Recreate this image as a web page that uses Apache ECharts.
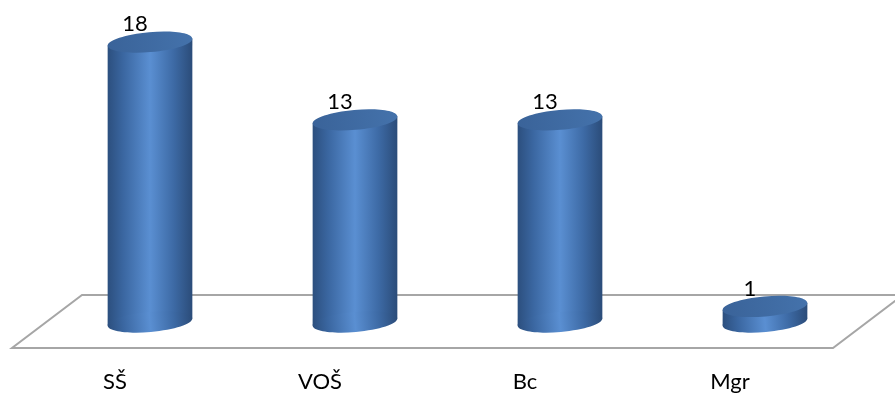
<!DOCTYPE html>
<html>
<head>
<meta charset="utf-8">
<script src="https://cdn.jsdelivr.net/npm/echarts@6/dist/echarts.min.js"></script>
<style>
  html, body { margin: 0; padding: 0; background: #ffffff; }
  #chart { width: 895px; height: 393px; }
</style>
</head>
<body>
<div id="chart"></div>
<script>
// Education level counts
const categories = ['SŠ', 'VOŠ', 'Bc', 'Mgr'];
const counts = [18, 13, 13, 1];

const FONT = 'Lato, "Open Sans", sans-serif';

const chart = echarts.init(document.getElementById('chart'), null, { renderer: 'canvas' });

const CYL_A = 42.5;               // ellipse semi-major axis
const CYL_B = 10;                 // ellipse semi-minor axis
const TILT = 5 * Math.PI / 180;   // slight perspective tilt of the caps

// horizontal half-extent of the tilted ellipse and vertical offset of its side points
const XE = Math.sqrt(CYL_A * CYL_A * Math.cos(TILT) ** 2 + CYL_B * CYL_B * Math.sin(TILT) ** 2);
const DY = (CYL_A * CYL_A - CYL_B * CYL_B) * Math.sin(TILT) * Math.cos(TILT) / XE;

function bodyGradient() {
  return new echarts.graphic.LinearGradient(0, 0, 1, 0, [
    { offset: 0, color: '#2c4f7e' },
    { offset: 0.18, color: '#3a66a0' },
    { offset: 0.5, color: '#5a8fd2' },
    { offset: 0.78, color: '#3d6aa5' },
    { offset: 1, color: '#2b4c79' }
  ]);
}

function capGradient() {
  return new echarts.graphic.LinearGradient(0, 0, 1, 0, [
    { offset: 0, color: '#3a6399' },
    { offset: 1, color: '#4472ab' }
  ]);
}

function ellipse(cx, cy, fill) {
  return {
    type: 'ellipse',
    shape: { cx: 0, cy: 0, rx: CYL_A, ry: CYL_B },
    x: cx, y: cy,
    rotation: TILT,
    style: { fill: fill }
  };
}

function renderCylinder(params, api) {
  const base = api.coord([api.value(0), 0]);
  const top = api.coord([api.value(0), api.value(1)]);
  const cx = base[0], by = base[1], ty = top[1];
  return {
    type: 'group',
    children: [
      {
        type: 'polygon',
        shape: {
          points: [
            [cx - XE, ty + DY], [cx + XE, ty - DY],
            [cx + XE, by - DY], [cx - XE, by + DY]
          ]
        },
        style: { fill: bodyGradient() }
      },
      ellipse(cx, by, bodyGradient()),
      ellipse(cx, ty, capGradient()),
      {
        type: 'text',
        style: {
          text: String(api.value(1)),
          x: cx - 15, y: ty - 18,
          align: 'center', verticalAlign: 'middle',
          fill: '#000000', font: '22px ' + FONT
        }
      }
    ]
  };
}

chart.setOption({
  animation: false,
  backgroundColor: '#ffffff',
  grid: { left: 47.5, right: 27.5, top: 11, bottom: 71 },
  xAxis: {
    type: 'category',
    data: categories,
    axisLine: { show: false },
    axisTick: { show: false },
    axisLabel: {
      margin: 49,
      padding: [0, 70, 0, 0],
      color: '#000000',
      fontSize: 22,
      fontFamily: FONT
    }
  },
  yAxis: {
    type: 'value',
    min: 0, max: 20,
    show: false,
    splitLine: { show: false }
  },
  graphic: [{
    type: 'polygon',
    z: 0,
    shape: { points: [[82, 295], [903, 295], [833, 348], [12, 348]] },
    style: { fill: '#ffffff', stroke: '#a6a6a6', lineWidth: 2 }
  }],
  series: [{
    type: 'custom',
    z: 5,
    renderItem: renderCylinder,
    data: categories.map((c, i) => [i, counts[i]])
  }]
});
</script>
</body>
</html>
